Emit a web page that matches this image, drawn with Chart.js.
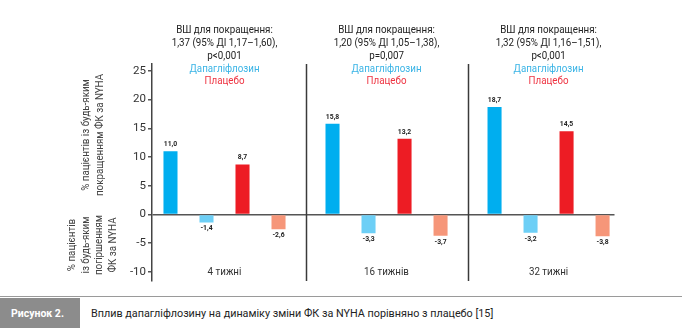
<!DOCTYPE html>
<html>
<head>
<meta charset="utf-8">
<script src="https://cdn.jsdelivr.net/npm/chart.js@4.4.0/dist/chart.umd.min.js"></script>
<style>
  body { margin: 0; background: #fff; font-family: Roboto, sans-serif; }
  #wrap { position: relative; width: 682px; height: 328px; overflow: hidden; }
  #chart { position: absolute; left: 0; top: 0; }
  .cap { position: absolute; left: 0; top: 296px; width: 682px; height: 32px; border-top: 1.5px solid #9a9a9a; }
  .cap-tag { position: absolute; left: 0; top: 1px; width: 80px; height: 31px; background: #8c8c8c;
    color: #fff; font-weight: bold; font-size: 10.5px; line-height: 31px; padding-left: 11px; box-sizing: border-box; }
  .cap-text { position: absolute; left: 91px; top: 1px; line-height: 31px; font-size: 10.8px; color: #222; }
</style>
</head>
<body>
<div id="wrap">
  <canvas id="chart" width="682" height="296"></canvas>
  <div class="cap">
    <div class="cap-tag">Рисунок 2.</div>
    <div class="cap-text">Вплив дапагліфлозину на динаміку зміни ФК за NYHA порівняно з плацебо [15]</div>
  </div>
</div>
<script>
const weeks = ['4 тижні', '16 тижнів', '32 тижні'];
const hrTitle = 'ВШ для покращення:';
const hrLines = ['1,37 (95% ДІ 1,17–1,60),', '1,20 (95% ДІ 1,05–1,38),', '1,32 (95% ДІ 1,16–1,51),'];
const pValues = ['p<0,001', 'p=0,007', 'p<0,001'];

const dapaImproved = [11.0, 15.8, 18.7];
const dapaWorsened = [-1.4, -3.3, -3.2];
const placeboImproved = [8.7, 13.2, 14.5];
const placeboWorsened = [-2.6, -3.7, -3.8];

const yTicks = [25, 20, 15, 10, 5, 0, -5, -10];
const titleUp = ['% пацієнтів із будь-яким', 'покращенням ФК за NYHA'];
const titleDown = ['% пацієнтів', 'із будь-яким', 'погіршенням', 'ФК за NYHA'];

const FONT = "Roboto, sans-serif";
const SQUEEZE = 0.85; // narrow the text a bit, the source font is condensed

function pts(arr) {
  return arr.map((v, i) => ({ x: i, y: v }));
}
function fmt(v) {
  return v.toFixed(1).replace('.', ',');
}
function narrowText(ctx, t, x, y, rot) {
  ctx.save();
  ctx.translate(x, y);
  if (rot) ctx.rotate(rot);
  ctx.scale(SQUEEZE, 1);
  ctx.fillText(t, 0, 0);
  ctx.restore();
}

// dividers, group notes, value labels and axis titles
const extras = {
  id: 'extras',
  afterDraw(chart) {
    const ctx = chart.ctx;
    const xs = chart.scales.x, ys = chart.scales.y;
    const area = chart.chartArea;
    ctx.save();

    ctx.strokeStyle = '#3a3a3a';
    ctx.lineWidth = 1.5;
    [0.5, 1.5].forEach(v => {
      const px = Math.round(xs.getPixelForValue(v)) + 0.5;
      ctx.beginPath();
      ctx.moveTo(px, area.top);
      ctx.lineTo(px, area.bottom);
      ctx.stroke();
    });

    ctx.textAlign = 'center';
    ctx.textBaseline = 'middle';
    weeks.forEach((w, i) => {
      const cx = xs.getPixelForValue(i);
      ctx.font = '11.5px ' + FONT;
      ctx.fillStyle = '#222';
      narrowText(ctx, hrTitle, cx, area.top - 34);
      narrowText(ctx, hrLines[i], cx, area.top - 21);
      narrowText(ctx, pValues[i], cx, area.top - 8);
      ctx.fillStyle = '#3ab4e6';
      narrowText(ctx, 'Дапагліфлозин', cx, area.top + 5);
      ctx.fillStyle = '#ee3341';
      narrowText(ctx, 'Плацебо', cx, area.top + 17);
      ctx.fillStyle = '#333';
      narrowText(ctx, w, cx, ys.getPixelForValue(-10));
    });

    ctx.font = 'bold 8px ' + FONT;
    ctx.fillStyle = '#222';
    chart.data.datasets.forEach((ds, di) => {
      chart.getDatasetMeta(di).data.forEach((el, j) => {
        const v = ds.data[j].y;
        const y = v >= 0 ? el.y - 7 : el.y + 6;
        narrowText(ctx, fmt(v), el.x, y);
      });
    });

    ctx.font = '11.5px ' + FONT;
    ctx.fillStyle = '#444';
    const drawTitle = (lines, xLast, cy) => {
      lines.forEach((t, k) => {
        const x = xLast - (lines.length - 1 - k) * 13.5;
        narrowText(ctx, t, x, cy, -Math.PI / 2);
      });
    };
    drawTitle(titleUp, 100, 135);
    drawTitle(titleDown, 113, 245);

    ctx.restore();
  }
};

new Chart(document.getElementById('chart'), {
  type: 'bar',
  data: {
    datasets: [
      { label: 'Дапагліфлозин, покращення', data: pts(dapaImproved), backgroundColor: '#00aeef' },
      { label: 'Дапагліфлозин, погіршення', data: pts(dapaWorsened), backgroundColor: '#6dcff6' },
      { label: 'Плацебо, покращення', data: pts(placeboImproved), backgroundColor: '#ed1c24' },
      { label: 'Плацебо, погіршення', data: pts(placeboWorsened), backgroundColor: '#f69679' }
    ]
  },
  options: {
    responsive: false,
    animation: false,
    devicePixelRatio: 1,
    categoryPercentage: 0.889,
    barPercentage: 0.39,
    layout: { padding: { top: 64, right: 67.5, bottom: 15, left: 0 } },
    plugins: { legend: { display: false }, tooltip: { enabled: false } },
    scales: {
      x: {
        type: 'linear',
        display: true,
        offset: false,
        min: -0.4475,
        max: 2.407,
        ticks: { display: false },
        grid: { display: false, drawTicks: false, offset: false },
        border: { display: false },
        afterBuildTicks: s => { s.ticks = weeks.map((_, i) => ({ value: i })); }
      },
      y: {
        min: -11.6,
        max: 26.2,
        afterBuildTicks: s => { s.ticks = yTicks.map(v => ({ value: v })); },
        afterFit: s => { s.width = 152; },
        border: { display: true, color: '#444', width: 1.5 },
        grid: {
          drawOnChartArea: true,
          color: c => (c.tick && c.tick.value === 0 ? '#555' : 'rgba(0,0,0,0)'),
          lineWidth: 1.5,
          tickColor: '#555',
          tickLength: 4
        },
        ticks: {
          color: '#333',
          padding: 2,
          font: { family: FONT, size: 11.5 }
        }
      }
    }
  },
  plugins: [extras]
});
</script>
</body>
</html>
